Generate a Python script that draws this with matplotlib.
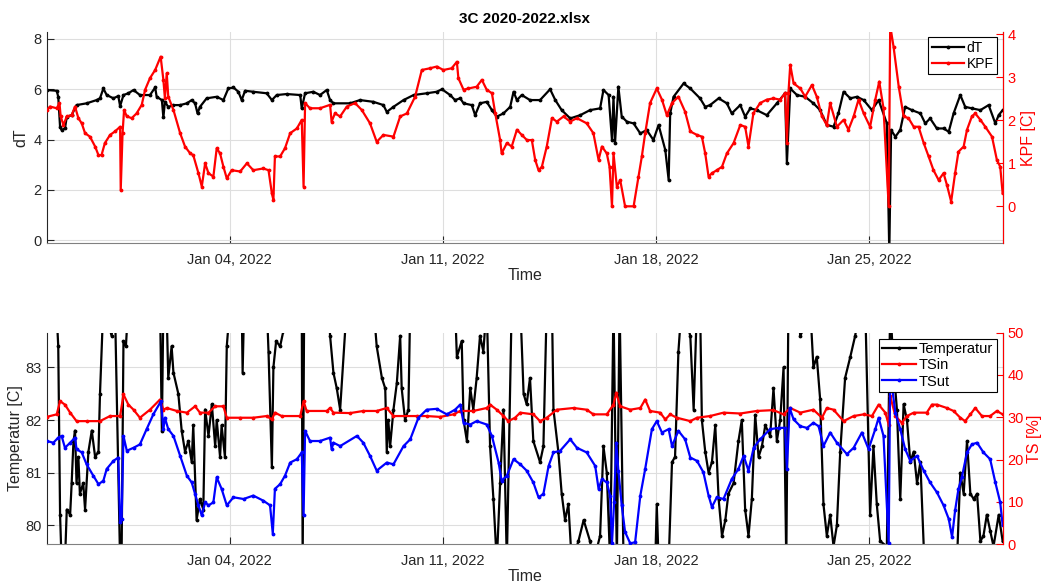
import numpy as np
import pandas as pd
import matplotlib
matplotlib.use('Agg')
import matplotlib.pyplot as plt
import matplotlib.dates as mdates

plt.rcParams['font.family'] = ['Liberation Sans', 'DejaVu Sans']

# time in days after 2021-12-29 00:00
start = pd.Timestamp('2021-12-29')
end_day = 31.37

dT_points = [
    (0.00, 5.97), (0.33, 5.94), (0.38, 5.70), (0.44, 4.50), (0.49, 4.38), (0.60, 4.44), (0.66, 4.90),
    (0.82, 4.97), (0.98, 5.37), (1.31, 5.44), (1.64, 5.57), (1.75, 5.64), (1.86, 6.03), (1.97, 5.77),
    (2.19, 5.64), (2.35, 5.73), (2.41, 5.33), (2.52, 5.77), (2.68, 5.84), (2.85, 5.97), (3.06, 5.77),
    (3.39, 5.77), (3.56, 6.07), (3.61, 5.70), (3.78, 5.57), (3.83, 4.88), (3.88, 5.50), (3.99, 5.30),
    (4.16, 5.37), (4.38, 5.37), (4.60, 5.44), (4.76, 5.57), (4.87, 5.44), (4.95, 5.04), (5.03, 5.30),
    (5.25, 5.64), (5.58, 5.70), (5.80, 5.57), (5.96, 6.03), (6.13, 6.07), (6.29, 5.90), (6.40, 5.57),
    (6.51, 5.94), (6.78, 5.90), (7.22, 5.84), (7.39, 5.57), (7.55, 5.77), (7.88, 5.81), (8.32, 5.77),
    (8.37, 5.24), (8.48, 5.84), (8.75, 5.90), (8.97, 5.77), (9.19, 5.97), (9.30, 5.57), (9.41, 5.44),
    (9.96, 5.44), (10.28, 5.57), (10.72, 5.50), (11.05, 5.37), (11.16, 5.10), (11.38, 5.30), (11.71, 5.57),
    (12.04, 5.77), (12.47, 5.84), (12.80, 5.90), (12.97, 6.00), (13.24, 5.77), (13.40, 5.57), (13.57, 5.64),
    (13.68, 5.44), (13.95, 5.37), (14.06, 4.97), (14.22, 5.44), (14.44, 5.50), (14.61, 5.17), (14.77, 4.91),
    (14.99, 5.04), (15.21, 5.30), (15.32, 5.90), (15.43, 5.57), (15.59, 5.77), (15.86, 5.57), (16.19, 5.57),
    (16.52, 6.00), (16.69, 5.57), (16.90, 5.17), (17.18, 4.84), (17.51, 4.97), (17.83, 5.17), (18.16, 5.24),
    (18.27, 5.97), (18.44, 5.77), (18.55, 3.98), (18.60, 5.70), (18.65, 3.85), (18.76, 6.10), (18.87, 4.91),
    (19.04, 4.71), (19.26, 4.64), (19.48, 4.24), (19.69, 4.38), (19.91, 3.98), (20.08, 4.58), (20.30, 3.58),
    (20.41, 2.39), (20.46, 5.04), (20.57, 5.70), (20.90, 6.23), (21.12, 6.03), (21.44, 5.64), (21.61, 5.30),
    (21.77, 5.37), (22.05, 5.64), (22.32, 5.44), (22.48, 5.04), (22.76, 5.37), (22.92, 4.91), (23.09, 5.24),
    (23.30, 5.17), (23.63, 4.97), (23.96, 5.44), (24.23, 5.84), (24.29, 3.05), (24.40, 6.03), (24.62, 5.77),
    (24.89, 5.70), (25.16, 5.44), (25.38, 5.17), (25.60, 4.58), (25.82, 4.51), (25.98, 5.04), (26.15, 5.90),
    (26.37, 5.64), (26.59, 5.70), (26.81, 5.57), (27.08, 5.17), (27.30, 5.57), (27.57, 4.64), (27.65, -0.50),
    (27.71, 4.38), (27.85, 4.11), (28.01, 4.38), (28.17, 5.30), (28.39, 5.17), (28.67, 5.04), (28.83, 4.64),
    (28.99, 4.84), (29.21, 4.44), (29.43, 4.44), (29.60, 4.31), (29.76, 5.04), (29.98, 5.77), (30.14, 5.30),
    (30.36, 5.24), (30.64, 5.17), (30.91, 5.37), (31.13, 4.64), (31.24, 4.97), (31.37, 5.17),
]

KPF_points = [
    (0.00, 2.24), (0.11, 2.32), (0.33, 2.28), (0.42, 2.40), (0.46, 2.09), (0.55, 1.89), (0.66, 2.09),
    (0.82, 2.12), (0.93, 2.32), (1.04, 2.05), (1.15, 1.93), (1.26, 1.70), (1.42, 1.62), (1.59, 1.39),
    (1.70, 1.19), (1.80, 1.19), (1.91, 1.47), (2.08, 1.66), (2.24, 1.74), (2.41, 1.85), (2.43, 0.38),
    (2.49, 1.70), (2.54, 2.24), (2.63, 2.09), (2.79, 2.05), (2.95, 2.16), (3.12, 2.36), (3.23, 2.71),
    (3.39, 2.98), (3.56, 3.17), (3.74, 3.48), (3.83, 2.94), (3.88, 2.51), (3.94, 3.09), (3.99, 2.55),
    (4.16, 2.24), (4.38, 1.70), (4.54, 1.39), (4.71, 1.23), (4.81, 1.19), (4.98, 0.77), (5.09, 0.46),
    (5.20, 1.00), (5.31, 0.77), (5.47, 0.69), (5.58, 1.35), (5.69, 1.23), (5.80, 0.92), (5.91, 0.65),
    (6.07, 0.84), (6.35, 0.81), (6.57, 1.00), (6.78, 0.84), (7.11, 0.88), (7.28, 0.84), (7.39, 0.30),
    (7.44, 0.15), (7.49, 1.16), (7.66, 1.16), (7.82, 1.35), (7.99, 1.70), (8.21, 1.81), (8.37, 2.01),
    (8.43, 0.46), (8.48, 2.40), (8.64, 2.28), (8.97, 2.28), (9.30, 2.36), (9.35, 1.97), (9.46, 2.16),
    (9.63, 2.09), (9.85, 2.32), (10.12, 2.40), (10.34, 2.24), (10.61, 1.93), (10.83, 1.50), (11.05, 1.66),
    (11.38, 1.62), (11.60, 2.09), (11.82, 2.16), (12.09, 2.55), (12.31, 3.17), (12.58, 3.21), (12.80, 3.25),
    (13.02, 3.17), (13.29, 3.21), (13.46, 3.36), (13.51, 2.98), (13.68, 2.71), (13.84, 2.74), (14.11, 2.78),
    (14.28, 2.94), (14.44, 2.71), (14.61, 2.63), (14.72, 2.16), (14.88, 1.54), (14.93, 1.23), (15.10, 1.47),
    (15.26, 1.39), (15.43, 1.78), (15.59, 1.66), (15.76, 1.54), (15.92, 1.54), (16.03, 1.08), (16.14, 0.84),
    (16.25, 0.92), (16.41, 1.39), (16.58, 2.05), (16.74, 1.97), (16.96, 2.09), (17.18, 1.97), (17.40, 2.05),
    (17.72, 1.93), (17.94, 1.70), (18.11, 1.08), (18.22, 1.39), (18.38, 1.23), (18.47, 0.92), (18.55, 0.00),
    (18.60, 1.23), (18.71, 0.46), (18.82, 0.61), (18.98, 0.00), (19.26, 0.00), (19.42, 0.69), (19.53, 1.16),
    (19.64, 1.70), (19.80, 2.40), (20.02, 2.74), (20.19, 2.48), (20.35, 2.12), (20.52, 2.40), (20.73, 2.55),
    (20.95, 2.20), (21.12, 1.74), (21.34, 1.66), (21.50, 1.62), (21.61, 1.23), (21.72, 0.69), (21.83, 0.77),
    (21.99, 0.84), (22.16, 0.92), (22.32, 1.23), (22.54, 1.47), (22.76, 1.89), (22.92, 1.85), (23.03, 1.39),
    (23.19, 2.16), (23.41, 2.40), (23.63, 2.48), (23.85, 2.51), (24.07, 2.48), (24.23, 2.63), (24.29, 1.47),
    (24.34, 2.63), (24.40, 3.29), (24.51, 2.86), (24.73, 2.74), (24.89, 2.55), (25.11, 2.82), (25.27, 2.55),
    (25.44, 2.09), (25.60, 1.89), (25.71, 2.40), (25.93, 1.85), (26.15, 2.01), (26.31, 1.78), (26.48, 2.09),
    (26.64, 2.48), (26.81, 2.16), (27.02, 1.85), (27.19, 2.48), (27.32, 2.90), (27.46, 2.28), (27.63, 0.00),
    (27.68, 4.20), (27.79, 3.71), (27.96, 2.78), (28.12, 2.09), (28.28, 2.05), (28.45, 1.85), (28.61, 1.85),
    (28.78, 1.47), (28.94, 1.16), (29.10, 0.84), (29.27, 0.61), (29.43, 0.77), (29.54, 0.50), (29.68, 0.11),
    (29.81, 0.77), (29.92, 1.27), (30.09, 1.39), (30.20, 1.78), (30.36, 2.09), (30.47, 2.16), (30.64, 2.01),
    (30.80, 1.85), (31.02, 1.62), (31.18, 1.08), (31.29, 0.92), (31.37, 0.30),
]

Temp_points = [
    (0.00, 84.5), (0.33, 84.0), (0.38, 83.4), (0.44, 80.2), (0.49, 79.3), (0.60, 79.3), (0.66, 80.3),
    (0.77, 80.2), (0.82, 80.8), (0.88, 81.6), (0.93, 81.8), (0.98, 80.8), (1.04, 81.3), (1.09, 80.6),
    (1.20, 80.8), (1.26, 80.3), (1.37, 81.4), (1.48, 81.8), (1.59, 81.3), (1.70, 81.4), (1.75, 82.5),
    (1.86, 84.2), (2.13, 83.6), (2.24, 84.2), (2.41, 79.3), (2.46, 79.5), (2.52, 83.5), (2.60, 83.4),
    (2.68, 84.2), (3.72, 84.2), (3.78, 81.8), (3.83, 84.2), (3.94, 84.0), (3.99, 82.8), (4.10, 83.4),
    (4.16, 82.9), (4.32, 82.5), (4.43, 81.8), (4.54, 81.4), (4.65, 81.6), (4.76, 81.2), (4.81, 81.9),
    (4.92, 80.1), (5.03, 80.5), (5.14, 80.3), (5.20, 82.2), (5.31, 81.7), (5.42, 82.3), (5.53, 81.5),
    (5.58, 82.0), (5.69, 81.3), (5.74, 81.9), (5.85, 81.3), (5.91, 83.4), (6.02, 84.2), (6.40, 84.2),
    (6.43, 82.9), (6.48, 84.2), (7.22, 84.2), (7.28, 83.3), (7.39, 81.1), (7.44, 83.0), (7.53, 83.5),
    (7.66, 83.4), (7.77, 83.7), (8.37, 84.2), (8.40, 79.3), (8.45, 84.2), (9.25, 84.2), (9.30, 83.6),
    (9.41, 82.9), (9.52, 82.6), (9.63, 82.2), (9.85, 84.2), (10.72, 84.2), (10.83, 83.4), (11.00, 82.8),
    (11.11, 82.6), (11.16, 81.4), (11.21, 82.0), (11.27, 81.5), (11.38, 82.2), (11.49, 82.7), (11.60, 83.6),
    (11.65, 82.6), (11.76, 82.0), (11.87, 82.2), (11.93, 84.2), (13.40, 84.2), (13.46, 83.2), (13.62, 83.5),
    (13.68, 82.0), (13.79, 81.6), (13.90, 82.6), (14.00, 82.2), (14.11, 82.8), (14.22, 83.6), (14.33, 83.3),
    (14.44, 84.2), (14.55, 81.5), (14.66, 80.5), (14.77, 79.3), (14.88, 80.8), (14.99, 82.2), (15.10, 79.3),
    (15.26, 84.2), (15.54, 84.2), (15.65, 82.5), (15.75, 82.3), (15.86, 82.8), (15.97, 81.6), (16.19, 81.2),
    (16.30, 81.5), (16.41, 84.2), (16.58, 84.2), (16.63, 82.2), (16.79, 81.4), (16.90, 80.6), (17.01, 80.1),
    (17.12, 80.4), (17.23, 79.3), (17.45, 79.7), (17.62, 80.1), (17.83, 79.7), (17.94, 79.3), (18.16, 79.8),
    (18.27, 81.5), (18.38, 81.0), (18.49, 79.3), (18.60, 84.2), (18.71, 79.3), (18.80, 84.2), (18.93, 79.3),
    (19.97, 79.3), (20.02, 80.4), (20.08, 79.3), (20.41, 79.3), (20.52, 81.2), (20.62, 81.3), (20.73, 83.3),
    (20.84, 84.2), (21.12, 83.6), (21.23, 82.2), (21.34, 84.2), (21.44, 84.2), (21.50, 82.0), (21.61, 81.4),
    (21.72, 81.0), (21.83, 81.2), (21.94, 81.9), (22.05, 80.5), (22.16, 79.8), (22.27, 80.1), (22.37, 80.6),
    (22.54, 80.8), (22.70, 81.6), (22.81, 82.0), (22.92, 80.3), (23.03, 79.8), (23.14, 80.5), (23.25, 82.1),
    (23.36, 81.3), (23.47, 81.5), (23.58, 81.9), (23.74, 81.7), (23.85, 82.6), (23.96, 81.6), (24.07, 82.0),
    (24.18, 83.0), (24.27, 79.3), (24.34, 84.2), (24.62, 84.2), (24.73, 83.6), (24.89, 83.8), (25.05, 84.2),
    (25.16, 83.0), (25.27, 83.2), (25.38, 82.4), (25.49, 80.4), (25.60, 79.8), (25.71, 80.2), (25.82, 79.6),
    (25.93, 80.0), (26.04, 81.4), (26.20, 82.8), (26.37, 83.2), (26.53, 83.6), (26.70, 84.2), (26.86, 84.2),
    (27.02, 80.2), (27.13, 81.5), (27.24, 80.4), (27.35, 79.7), (27.57, 79.6), (27.68, 84.2), (27.79, 83.0),
    (27.90, 82.2), (28.01, 80.5), (28.12, 82.3), (28.23, 82.0), (28.34, 81.2), (28.45, 81.4), (28.56, 80.8),
    (28.67, 81.2), (28.78, 79.6), (28.99, 79.3), (29.87, 79.3), (29.98, 81.0), (30.09, 80.6), (30.20, 81.6),
    (30.31, 80.6), (30.42, 80.5), (30.53, 80.6), (30.64, 79.7), (30.74, 79.8), (30.85, 80.2), (30.96, 79.9),
    (31.07, 79.6), (31.24, 80.2), (31.37, 79.7),
]

TSin_points = [
    (0.00, 30.1), (0.33, 30.7), (0.44, 33.8), (0.60, 33.0), (0.77, 31.1), (0.98, 29.1), (1.31, 29.1),
    (1.75, 29.1), (2.08, 30.3), (2.41, 30.3), (2.52, 35.4), (2.68, 33.0), (2.85, 31.8), (3.06, 29.9),
    (3.39, 31.8), (3.72, 34.2), (3.83, 31.8), (3.94, 32.2), (4.27, 31.5), (4.60, 31.1), (4.87, 32.6),
    (5.03, 31.1), (5.31, 31.1), (5.53, 32.6), (5.80, 32.6), (5.91, 29.9), (6.35, 29.9), (6.78, 29.9),
    (7.22, 30.3), (7.39, 29.5), (7.49, 31.1), (7.71, 30.3), (8.32, 30.3), (8.43, 33.8), (8.53, 31.5),
    (9.19, 31.5), (9.30, 32.2), (9.41, 31.1), (9.96, 31.0), (10.39, 31.5), (10.83, 31.5), (11.16, 32.2),
    (11.38, 30.3), (12.14, 30.3), (12.47, 30.3), (12.91, 30.1), (13.35, 30.7), (13.57, 31.5), (14.00, 31.5),
    (14.44, 32.2), (14.55, 33.0), (14.77, 31.8), (14.99, 30.3), (15.15, 29.1), (15.37, 29.9), (15.54, 31.1),
    (15.97, 30.7), (16.19, 29.1), (16.41, 29.9), (16.74, 31.8), (17.29, 32.2), (17.72, 31.8), (17.94, 30.7),
    (18.38, 30.7), (18.60, 33.0), (18.69, 35.8), (18.82, 32.6), (19.15, 31.8), (19.48, 32.2), (19.64, 34.2),
    (19.80, 31.5), (20.13, 31.1), (20.30, 29.5), (20.46, 30.7), (20.68, 29.9), (21.12, 29.1), (21.34, 29.9),
    (21.77, 30.3), (22.21, 31.1), (22.76, 30.9), (23.30, 31.5), (23.85, 31.7), (24.18, 30.7), (24.40, 32.2),
    (24.73, 31.1), (25.16, 31.8), (25.44, 29.9), (25.60, 32.2), (25.82, 31.8), (26.15, 29.1), (26.48, 30.3),
    (26.81, 30.7), (27.08, 30.3), (27.30, 33.0), (27.52, 31.1), (27.63, 28.3), (27.68, 35.0), (27.85, 30.3),
    (28.06, 28.7), (28.23, 30.3), (28.45, 31.1), (28.88, 31.1), (29.05, 33.0), (29.21, 33.0), (29.54, 32.2),
    (29.76, 31.5), (29.98, 29.9), (30.14, 29.1), (30.31, 30.7), (30.47, 32.2), (30.69, 30.3), (30.96, 30.3),
    (31.18, 31.5), (31.37, 30.7),
]

TSut_points = [
    (0.00, 24.4), (0.22, 24.0), (0.38, 25.2), (0.49, 25.6), (0.60, 22.8), (0.77, 24.0), (0.93, 25.2),
    (0.98, 22.5), (1.15, 21.7), (1.31, 18.9), (1.53, 16.2), (1.70, 14.2), (1.86, 15.0), (1.97, 17.8),
    (2.19, 19.7), (2.35, 20.5), (2.41, 5.2), (2.46, 6.0), (2.52, 25.6), (2.63, 22.1), (2.85, 22.8),
    (3.06, 23.6), (3.28, 27.2), (3.50, 30.7), (3.75, 33.8), (3.83, 27.2), (3.88, 29.9), (3.99, 27.2),
    (4.16, 25.6), (4.38, 20.9), (4.60, 16.2), (4.76, 14.6), (4.87, 11.9), (4.98, 9.2), (5.09, 6.8),
    (5.20, 9.9), (5.31, 9.2), (5.47, 9.9), (5.58, 15.8), (5.74, 13.1), (5.91, 9.2), (6.13, 11.1),
    (6.46, 10.7), (6.78, 11.5), (7.11, 10.3), (7.33, 9.2), (7.42, 2.5), (7.49, 13.1), (7.66, 14.2),
    (7.82, 16.2), (7.99, 19.3), (8.21, 20.1), (8.37, 21.7), (8.43, 6.8), (8.48, 26.8), (8.64, 24.4),
    (8.97, 24.4), (9.30, 25.2), (9.35, 22.5), (9.41, 24.0), (9.63, 23.2), (10.18, 25.6), (10.39, 24.0),
    (10.61, 20.9), (10.83, 17.4), (11.16, 19.3), (11.38, 18.9), (11.71, 23.2), (11.93, 24.8), (12.20, 29.9),
    (12.47, 31.8), (12.80, 32.0), (13.13, 30.7), (13.40, 31.8), (13.57, 33.0), (13.68, 28.7), (13.90, 28.3),
    (14.11, 29.1), (14.44, 28.3), (14.61, 25.6), (14.83, 19.3), (14.93, 15.0), (15.10, 16.2), (15.32, 20.1),
    (15.54, 18.9), (15.75, 17.4), (15.97, 14.6), (16.14, 11.1), (16.30, 11.9), (16.47, 18.5), (16.63, 21.7),
    (16.85, 22.1), (17.18, 24.8), (17.40, 22.8), (17.72, 21.7), (18.00, 18.5), (18.11, 13.1), (18.22, 15.4),
    (18.38, 14.6), (18.49, 11.5), (18.55, 0.2), (18.62, 9.9), (18.69, 24.0), (18.76, 17.4), (18.87, 9.2),
    (18.98, 2.9), (19.15, 0.2), (19.31, 0.5), (19.48, 11.5), (19.64, 17.8), (19.86, 27.2), (20.02, 29.1),
    (20.19, 26.4), (20.41, 27.2), (20.52, 23.2), (20.73, 26.8), (20.95, 24.8), (21.12, 20.5), (21.34, 19.7),
    (21.55, 17.0), (21.72, 11.5), (21.83, 8.8), (21.99, 11.1), (22.21, 10.7), (22.48, 15.4), (22.70, 17.8),
    (22.87, 20.9), (23.03, 17.4), (23.20, 22.8), (23.41, 24.8), (23.74, 27.2), (24.02, 27.5), (24.23, 27.5),
    (24.29, 17.8), (24.38, 32.2), (24.51, 29.5), (24.73, 27.9), (24.95, 27.5), (25.16, 28.7), (25.33, 27.9),
    (25.49, 23.2), (25.71, 26.4), (25.93, 24.0), (26.26, 21.3), (26.48, 22.8), (26.75, 26.4), (26.97, 22.5),
    (27.19, 27.2), (27.30, 29.9), (27.46, 25.6), (27.63, 0.2), (27.68, 40.5), (27.85, 31.1), (28.01, 27.2),
    (28.17, 22.5), (28.34, 19.7), (28.56, 20.9), (28.78, 17.4), (28.99, 14.6), (29.21, 12.3), (29.43, 9.2),
    (29.60, 6.0), (29.71, 1.7), (29.81, 8.0), (29.92, 13.1), (30.03, 15.8), (30.20, 21.7), (30.36, 23.6),
    (30.53, 24.0), (30.74, 21.7), (30.96, 20.1), (31.13, 14.6), (31.29, 9.9), (31.37, 4.5),
]

tick_dates = ['2022-01-04', '2022-01-11', '2022-01-18', '2022-01-25']


def to_series(points):
    days = np.array([p[0] for p in points])
    vals = np.array([p[1] for p in points])
    return start + pd.to_timedelta(days, unit='D'), vals


dark = '#262626'
red = '#ff0000'
blue = '#0000ff'
line_kw = dict(lw=1.6, marker='.', ms=3.5)


def style_axes(ax, axr):
    ax.set_xlim(start, start + pd.Timedelta(days=end_day))
    ax.set_xticks(pd.to_datetime(tick_dates))
    ax.xaxis.set_major_formatter(mdates.DateFormatter('%b %d, %Y'))
    ax.grid(True, color='#dedede', lw=0.8)
    ax.tick_params(direction='in', length=5, labelsize=10.5, colors=dark)
    ax.tick_params(axis='x', pad=7)
    axr.tick_params(direction='in', length=5, labelsize=10.5, colors=red)
    ax.spines['top'].set_visible(False)
    axr.spines['top'].set_visible(False)
    ax.spines['left'].set_color(dark)
    ax.spines['bottom'].set_color('#808080')
    axr.spines['right'].set_color(red)
    axr.spines['left'].set_visible(False)
    axr.spines['bottom'].set_visible(False)
    ax.set_xlabel('Time', fontsize=11.5, color=dark, labelpad=1)


fig = plt.figure(figsize=(10.44, 5.86), dpi=100)

# top panel: dT and KPF
ax1 = fig.add_axes([0.0447, 0.5848, 0.9157, 0.3611])
ax2 = ax1.twinx()
t, v = to_series(dT_points)
l1, = ax1.plot(t, v, color='k', label='dT', **line_kw)
t, v = to_series(KPF_points)
l2, = ax2.plot(t, v, color=red, label='KPF', **line_kw)
ax1.set_ylim(-0.13, 8.29)
ax1.set_yticks([0, 2, 4, 6, 8])
ax2.set_ylim(-0.86, 4.06)
ax2.set_yticks([0, 1, 2, 3, 4])
ax1.set_ylabel('dT', fontsize=11.5, color=dark, labelpad=4)
ax2.set_ylabel('KPF [C]', fontsize=11.5, color=red, labelpad=4)
style_axes(ax1, ax2)
ax1.set_title('3C 2020-2022.xlsx', fontsize=11, fontweight='bold', color='k', pad=6)
leg = ax2.legend(handles=[l1, l2], loc='upper right', fontsize=10, frameon=True, fancybox=False,
                 edgecolor='k', framealpha=1, handlelength=2.3, handletextpad=0.2,
                 borderpad=0.25, labelspacing=0.15, borderaxespad=0.4)
leg.get_frame().set_linewidth(0.8)

# bottom panel: Temperatur, TSin and TSut
ax3 = fig.add_axes([0.0447, 0.0712, 0.9157, 0.3611])
ax4 = ax3.twinx()
t, v = to_series(Temp_points)
l3, = ax3.plot(t, v, color='k', label='Temperatur', **line_kw)
t, v = to_series(TSin_points)
l4, = ax4.plot(t, v, color=red, label='TSin', **line_kw)
t, v = to_series(TSut_points)
l5, = ax4.plot(t, v, color=blue, label='TSut', **line_kw)
ax3.set_ylim(79.64, 83.66)
ax3.set_yticks([80, 81, 82, 83])
ax4.set_ylim(0, 50)
ax4.set_yticks([0, 10, 20, 30, 40, 50])
ax3.set_ylabel('Temperatur [C]', fontsize=11.5, color=dark, labelpad=2)
ax4.set_ylabel('TS [%]', fontsize=11.5, color=red, labelpad=2)
style_axes(ax3, ax4)
leg = ax4.legend(handles=[l3, l4, l5], loc='upper right', fontsize=10.5, frameon=True, fancybox=False,
                 edgecolor='k', framealpha=1, handlelength=2.3, handletextpad=0.2,
                 borderpad=0.25, labelspacing=0.15, borderaxespad=0.4)
leg.get_frame().set_linewidth(0.8)

plt.savefig('out.png', dpi=100)
